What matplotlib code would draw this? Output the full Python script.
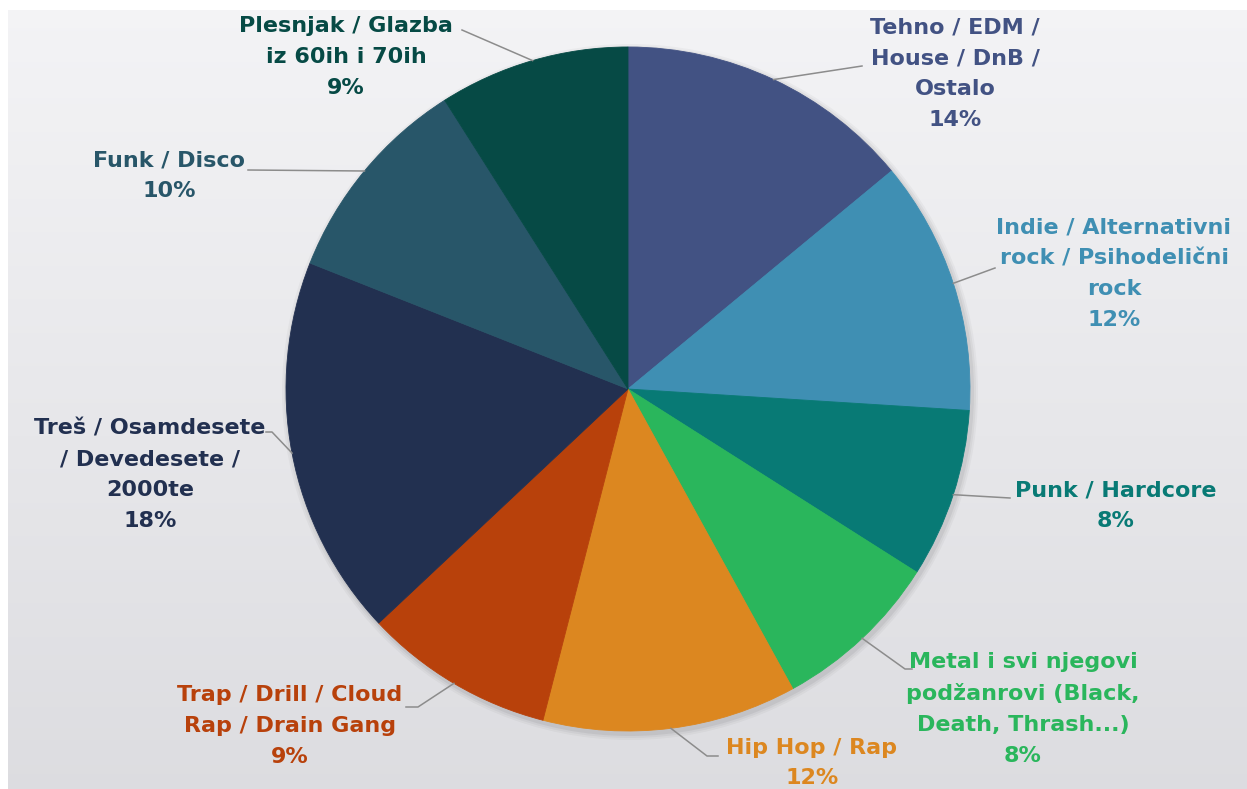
import matplotlib.pyplot as plt
import numpy as np

W, H = 1247, 789

genres = [
    "Tehno / EDM /\nHouse / DnB /\nOstalo",
    "Indie / Alternativni\nrock / Psihodelični\nrock",
    "Punk / Hardcore",
    "Metal i svi njegovi\npodžanrovi (Black,\nDeath, Thrash...)",
    "Hip Hop / Rap",
    "Trap / Drill / Cloud\nRap / Drain Gang",
    "Treš / Osamdesete\n/ Devedesete /\n2000te",
    "Funk / Disco",
    "Plesnjak / Glazba\niz 60ih i 70ih",
]
shares = [14, 12, 8, 8, 12, 9, 18, 10, 9]
colors = ["#425283", "#3f8fb3", "#087a75", "#2ab65c", "#dc8720",
          "#b8410b", "#223050", "#285669", "#064a45"]

# layout in pixel coords (y from top)
center_px = (628, 389)
radius = 342
label_pos = [(955, 74), (1114, 274), (1116, 506), (1023, 709), (812, 763),
             (290, 726), (150, 475), (169, 176), (346, 57)]
leader_pts = [
    [(862, 66)],
    [(995, 268)],
    [(1010, 498)],
    [(905, 669), (912, 669)],
    [(707, 756), (718, 756)],
    [(418, 707), (406, 707)],
    [(272, 432), (266, 432)],
    [(248, 170)],
    [(462, 30)],
]


def fy(y):
    return H - y


fig = plt.figure(figsize=(W / 100, H / 100), dpi=100)
fig.patch.set_facecolor("white")
ax = fig.add_axes([0, 0, 1, 1])

# soft gray gradient background
grad = np.linspace(0, 1, 256).reshape(-1, 1)
top = np.array([0.955, 0.955, 0.963])
bot = np.array([0.865, 0.865, 0.880])
img = top + (bot - top) * grad[:, :, None]
ax.imshow(img, extent=(8, W, fy(H), fy(10)), aspect="auto", zorder=0)

cx, cy = center_px[0], fy(center_px[1])

# faint shadow
for i, a in enumerate([0.05, 0.04, 0.03]):
    ax.add_patch(plt.Circle((cx + 2, cy - 3), radius + 2 + i * 2,
                            color="black", alpha=a, lw=0, zorder=1))

wedges, _ = ax.pie(shares, colors=colors, startangle=90, counterclock=False,
                   center=(cx, cy), radius=radius, frame=True,
                   wedgeprops=dict(linewidth=0.6, zorder=2))
for w, col in zip(wedges, colors):
    w.set_edgecolor(col)

total = sum(shares)
for w, name, s, col, pos, pts in zip(wedges, genres, shares, colors,
                                     label_pos, leader_pts):
    mid = np.deg2rad((w.theta1 + w.theta2) / 2)
    x0 = cx + radius * np.cos(mid)
    y0 = cy + radius * np.sin(mid)
    xs = [x0] + [p[0] for p in pts]
    ys = [y0] + [fy(p[1]) for p in pts]
    ax.plot(xs, ys, color="#8c8c8c", lw=1.1, zorder=3)
    pct = round(100 * s / total)
    ax.text(pos[0], fy(pos[1]), f"{name}\n{pct}%", ha="center", va="center",
            color=col, fontsize=16, fontweight="bold", linespacing=1.68,
            family="DejaVu Sans", zorder=4)

ax.set_xlim(0, W)
ax.set_ylim(0, H)
ax.set_aspect("auto")
ax.axis("off")

fig.savefig("out.png", dpi=100)
